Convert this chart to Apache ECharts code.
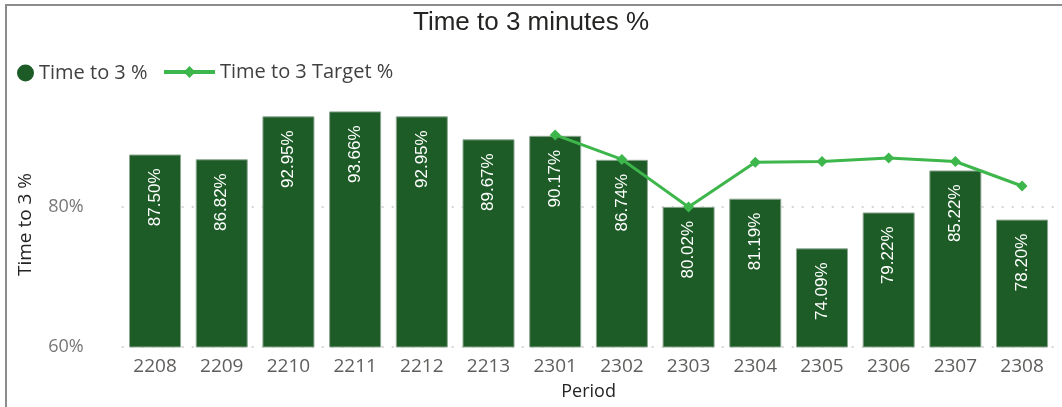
<!DOCTYPE html>
<html>
<head>
<meta charset="utf-8">
<script src="https://cdn.jsdelivr.net/npm/echarts@6/dist/echarts.min.js"></script>
<style>html,body{margin:0;padding:0;background:#fff}#c{width:1062px;height:407px}</style>
</head>
<body>
<div id="c"></div>
<script>
const periods = ['2208','2209','2210','2211','2212','2213','2301','2302','2303','2304','2305','2306','2307','2308'];
const actualPct = [87.50, 86.82, 92.95, 93.66, 92.95, 89.67, 90.17, 86.74, 80.02, 81.19, 74.09, 79.22, 85.22, 78.20];
const targetPct = [null, null, null, null, null, null, 90.3, 86.8, 80.0, 86.4, 86.5, 87.0, 86.5, 83.0];
const yTicks = { min: 60, max: 95, interval: 20 };

const chart = echarts.init(document.getElementById('c'), null, { renderer: 'canvas' });
const uiFont = '"Open Sans", "Noto Sans", sans-serif';
chart.setOption({
  animation: false,
  title: {
    text: 'Time to 3 minutes %',
    left: 'center', top: 10, padding: 0,
    textStyle: { fontFamily: '"Liberation Sans", Arial, sans-serif', fontSize: 26, fontWeight: 'normal', color: '#252423' }
  },
  graphic: [{
    type: 'rect', shape: { x: 6, y: 5, width: 1200, height: 600 },
    style: { fill: 'none', stroke: '#8c8c8c', lineWidth: 2 }, silent: true
  }],
  legend: [{
    left: 17, top: 63, padding: 0,
    itemWidth: 17, itemHeight: 17, itemGap: 4,
    data: [{ name: 'Time to 3 %', icon: 'circle', itemStyle: { borderWidth: 0, color: '#1D5C27' } }],
    textStyle: { fontFamily: uiFont, fontSize: 20, color: '#404040' }
  }, {
    left: 162, top: 62, padding: 0,
    itemWidth: 51, itemHeight: 15,
    data: [{ name: 'Time to 3 Target %', lineStyle: { width: 4, color: '#3DB64B' }, itemStyle: { color: '#3DB64B' } }],
    textStyle: { fontFamily: uiFont, fontSize: 20, color: '#404040' }
  }],
  grid: { left: 121.7, right: 6.6, top: 102, bottom: 60 },
  xAxis: {
    type: 'category', data: periods,
    axisLine: { show: false }, axisTick: { show: false },
    axisLabel: { margin: 10, fontFamily: uiFont, fontSize: 19, color: '#605E5C' },
    name: 'Period', nameLocation: 'middle', nameGap: 36,
    nameTextStyle: { fontFamily: uiFont, fontSize: 18, color: '#252423' }
  },
  yAxis: {
    type: 'value', min: yTicks.min, max: yTicks.max, interval: yTicks.interval,
    axisLine: { show: false }, axisTick: { show: false },
    axisLabel: { margin: 38, showMaxLabel: false, fontFamily: uiFont, fontSize: 18, color: '#777777', formatter: v => v + '%' },
    splitLine: { show: true, showMaxLine: false, lineStyle: { type: [2, 8], color: '#c8c8c8', width: 1.5 } },
    name: 'Time to 3 %', nameLocation: 'middle', nameGap: 87, nameRotate: 90,
    nameTextStyle: { fontFamily: uiFont, fontSize: 19, color: '#252423' }
  },
  series: [{
    name: 'Time to 3 %', type: 'bar', data: actualPct,
    barCategoryGap: '22%',
    itemStyle: { color: '#1D5C27', borderColor: '#8fa893', borderWidth: 1 },
    label: {
      show: true, position: 'insideTop', distance: 14, rotate: 90,
      align: 'right', verticalAlign: 'middle',
      fontFamily: '"Liberation Sans", Arial, sans-serif', fontSize: 17, color: '#ffffff',
      formatter: p => p.value.toFixed(2) + '%'
    }
  }, {
    name: 'Time to 3 Target %', type: 'line', data: targetPct,
    symbol: 'diamond', symbolSize: 11,
    itemStyle: { color: '#3DB64B' },
    lineStyle: { color: '#3DB64B', width: 3 },
    z: 5
  }]
});
</script>
</body>
</html>
